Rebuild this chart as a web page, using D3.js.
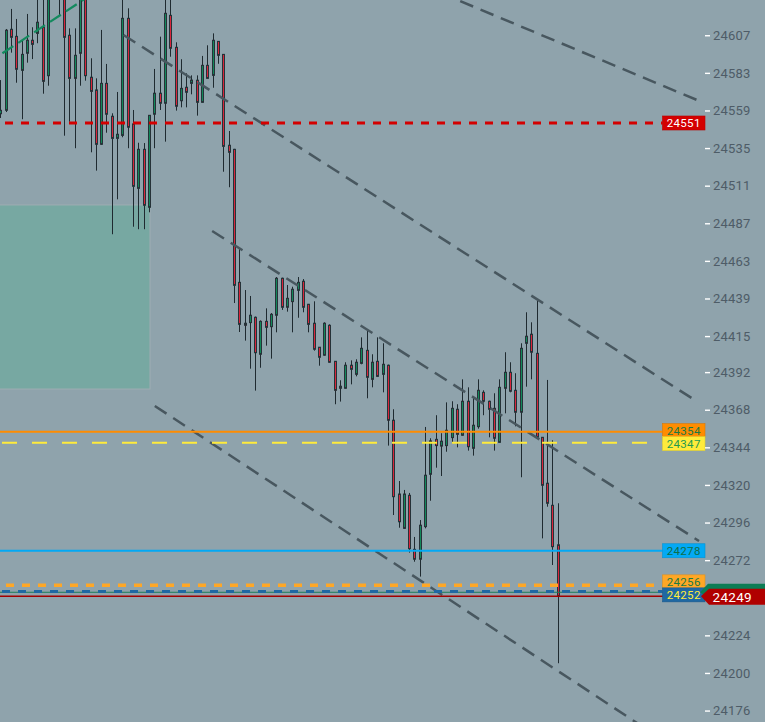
<!DOCTYPE html>
<html>
<head>
<meta charset="utf-8">
<script src="https://cdn.jsdelivr.net/npm/d3@7"></script>
<style>
  body { margin: 0; background: #8fa3ac; overflow: hidden; }
  svg { display: block; font-family: Roboto, "Liberation Sans", sans-serif; }
</style>
</head>
<body>
<div id="chart"></div>
<script>
// candles, oldest first (first one is cut by the left edge)
var opens = [24556.9, 24559.1, 24610.8, 24606.3, 24584.6, 24595.5, 24603.8, 24608.2, 24612.1, 24581.2,
  24642.0, 24650.0, 24638.0, 24607.0, 24579.5, 24595.5, 24638.0, 24580.2, 24572.1, 24537.4,
  24576.3, 24555.3, 24541.2, 24543.1, 24617.8, 24550.4, 24509.3, 24534.2, 24497.2, 24556.6,
  24570.0, 24563.6, 24619.7, 24599.3, 24565.2, 24573.8, 24576.3, 24578.3, 24564.2, 24587.8,
  24581.4, 24603.1, 24594.8, 24536.8, 24534.2, 24449.3, 24423.2, 24423.6, 24427.0, 24403.4,
  24424.4, 24421.0, 24428.3, 24451.9, 24433.4, 24437.0, 24444.2, 24450.0, 24435.3, 24423.2,
  24407.9, 24402.8, 24421.9, 24398.9, 24381.7, 24381.7, 24396.4, 24390.6, 24397.6, 24405.9,
  24387.4, 24398.9, 24390.6, 24396.4, 24361.3, 24314.2, 24292.3, 24313.4, 24278.9, 24272.6,
  24293.4, 24326.8, 24349.1, 24344.8, 24345.1, 24350.2, 24368.3, 24351.7, 24373.4, 24343.4,
  24357.2, 24379.1, 24373.4, 24368.9, 24347.2, 24381.7, 24391.9, 24380.4, 24366.4, 24410.4,
  24416.2, 24404.0, 24350.4, 24321.1, 24307.0, 24281.8];
var highs = [24578.4, 24611.0, 24623.8, 24617.4, 24604.0, 24620.6, 24612.1, 24630.5, 24632.0, 24648.0,
  24662.0, 24660.0, 24645.0, 24611.4, 24611.4, 24640.0, 24645.0, 24592.3, 24579.5, 24610.4,
  24588.7, 24557.2, 24570.8, 24631.0, 24624.2, 24559.3, 24538.4, 24538.2, 24556.0, 24585.5,
  24606.1, 24632.0, 24631.0, 24602.5, 24591.7, 24582.7, 24581.4, 24581.4, 24593.8, 24600.6,
  24608.2, 24603.2, 24595.0, 24545.9, 24534.5, 24471.2, 24444.4, 24440.6, 24427.5, 24425.0,
  24432.7, 24429.7, 24452.7, 24452.3, 24447.6, 24446.5, 24452.7, 24451.4, 24435.5, 24437.2,
  24408.0, 24423.8, 24422.5, 24399.0, 24386.8, 24398.3, 24399.5, 24400.2, 24414.2, 24419.3,
  24403.4, 24414.2, 24410.4, 24396.8, 24368.3, 24322.5, 24316.8, 24314.9, 24286.8, 24297.6,
  24357.0, 24349.8, 24364.5, 24353.0, 24372.7, 24373.4, 24371.5, 24387.4, 24382.3, 24375.9,
  24387.4, 24380.4, 24373.8, 24378.5, 24387.4, 24404.7, 24398.3, 24391.3, 24410.4, 24430.2,
  24423.8, 24437.8, 24350.5, 24387.0, 24348.5, 24308.3];
var lows = [24554.2, 24558.0, 24595.9, 24576.7, 24553.4, 24589.5, 24591.8, 24601.9, 24569.7, 24574.8,
  24633.0, 24619.7, 24542.9, 24551.8, 24534.9, 24574.8, 24578.0, 24532.3, 24520.6, 24537.0,
  24544.8, 24480.0, 24502.3, 24541.9, 24534.9, 24484.8, 24483.2, 24483.2, 24494.0, 24534.9,
  24559.3, 24539.1, 24593.3, 24558.9, 24561.0, 24561.0, 24569.3, 24555.7, 24564.0, 24579.3,
  24573.5, 24588.8, 24519.9, 24510.0, 24436.1, 24417.6, 24412.1, 24394.2, 24380.2, 24394.8,
  24408.9, 24400.6, 24417.4, 24431.7, 24430.6, 24417.4, 24426.7, 24430.2, 24417.4, 24405.7,
  24396.1, 24402.5, 24398.0, 24371.5, 24373.2, 24381.5, 24384.2, 24389.3, 24397.0, 24375.3,
  24382.3, 24389.0, 24379.1, 24345.1, 24300.8, 24292.7, 24292.0, 24276.8, 24271.0, 24261.5,
  24292.3, 24309.9, 24331.0, 24325.7, 24341.2, 24346.6, 24344.0, 24351.5, 24341.9, 24338.7,
  24355.9, 24364.5, 24350.4, 24341.9, 24347.0, 24365.7, 24379.1, 24357.4, 24324.9, 24382.7,
  24387.4, 24350.0, 24285.9, 24306.1, 24268.9, 24206.2];
var closes = [24559.1, 24610.2, 24605.7, 24585.3, 24594.8, 24603.8, 24601.2, 24615.3, 24577.6, 24640.0,
  24655.0, 24636.0, 24605.7, 24579.5, 24594.2, 24633.0, 24581.2, 24571.2, 24537.4, 24576.3,
  24556.6, 24541.2, 24543.8, 24617.8, 24548.3, 24510.6, 24534.2, 24498.5, 24555.9, 24570.0,
  24563.6, 24621.0, 24598.7, 24561.7, 24573.1, 24570.6, 24578.4, 24564.2, 24587.8, 24579.5,
  24603.8, 24594.2, 24536.1, 24532.3, 24447.4, 24422.5, 24421.9, 24428.3, 24404.4, 24424.4,
  24420.6, 24428.9, 24451.9, 24433.4, 24439.1, 24444.9, 24449.3, 24433.4, 24422.5, 24406.6,
  24401.5, 24423.2, 24398.3, 24380.4, 24383.0, 24396.4, 24393.8, 24398.3, 24407.2, 24388.7,
  24398.3, 24389.3, 24397.0, 24361.3, 24312.5, 24296.5, 24314.2, 24279.3, 24272.6, 24294.3,
  24326.2, 24348.1, 24345.1, 24347.9, 24354.9, 24368.9, 24352.3, 24373.4, 24344.4, 24358.1,
  24380.4, 24373.4, 24368.3, 24349.8, 24382.3, 24391.9, 24379.8, 24366.4, 24407.2, 24414.9,
  24404.7, 24350.4, 24319.8, 24308.3, 24280.6, 24249.0];

// right scale tick labels (24248 sits under the last price tag)
var tickValues = [24607, 24583, 24559, 24535, 24511, 24487, 24463, 24439, 24415, 24392,
  24368, 24344, 24320, 24296, 24272, 24224, 24200, 24176];

// horizontal price levels
var levelValues = [24551, 24354, 24347, 24278, 24256, 24252];
var lastPrice = 24249;
var bidPrice = 24251.5;

// channel lines: [candle index, price] pairs
var trendTop = [[82.8, 24634.2], [131.2, 24565.7]];
var trendUpper = [[23.2, 24607.2], [131.3, 24373.1]];
var trendLower = [[39.9, 24482.1], [131.6, 24284.2]];
var trendBottom = [[29.1, 24370.4], [124.0, 24159.0]];
var trendGreen = [[0.4, 24595.5], [16.5, 24631.5]];

// shaded zone on the left
var zoneIdx = [-3, 28.2];
var zonePrice = [24498.7, 24381.2];

var width = 765, height = 722, axisX = 705, tagX = 662.5;

var svg = d3.select("#chart").append("svg")
  .attr("width", width)
  .attr("height", height);

svg.append("rect")
  .attr("width", width).attr("height", height)
  .attr("fill", "#8fa3ac");

var x = d3.scaleLinear().domain([0, 105]).range([0.3, 557.8]);
var y = d3.scaleLinear().domain([24168.7, 24629.5]).range([height, 0]);

// zone
svg.append("rect")
  .attr("x", x(zoneIdx[0]))
  .attr("y", y(zonePrice[0]))
  .attr("width", x(zoneIdx[1]) - x(zoneIdx[0]))
  .attr("height", y(zonePrice[1]) - y(zonePrice[0]))
  .attr("fill", "#77a8a2")
  .attr("stroke", "#9fadb3")
  .attr("stroke-width", 1);

// candles
var candles = opens.map(function(o, i) {
  return {i: i, o: o, h: highs[i], l: lows[i], c: closes[i]};
});

var cg = svg.append("g");
var px = function(d) { return Math.round(x(d.i)) + 0.5; };

cg.selectAll("line.wick")
  .data(candles)
  .enter().append("line")
    .attr("class", "wick")
    .attr("x1", px).attr("x2", px)
    .attr("y1", function(d) { return y(d.h); })
    .attr("y2", function(d) { return y(d.l); })
    .attr("stroke", "#1f2a30")
    .attr("stroke-width", 1);

cg.selectAll("rect.body")
  .data(candles)
  .enter().append("rect")
    .attr("class", "body")
    .attr("x", function(d) { return px(d) - 1; })
    .attr("width", 2)
    .attr("y", function(d) { return y(Math.max(d.o, d.c)); })
    .attr("height", function(d) { return Math.max(1, Math.abs(y(d.o) - y(d.c))); })
    .attr("fill", function(d) { return d.c >= d.o ? "#12885a" : "#d8263c"; })
    .attr("stroke", "#263238")
    .attr("stroke-width", 1);

// trend lines
var line = d3.line()
  .x(function(d) { return x(d[0]); })
  .y(function(d) { return y(d[1]); });

[trendTop, trendUpper, trendLower, trendBottom].forEach(function(t) {
  svg.append("path")
    .attr("d", line(t))
    .attr("fill", "none")
    .attr("stroke", "#48575f")
    .attr("stroke-width", 2.5)
    .attr("stroke-dasharray", "14,8");
});

svg.append("path")
  .attr("d", line(trendGreen))
  .attr("fill", "none")
  .attr("stroke", "#138a5e")
  .attr("stroke-width", 2.2)
  .attr("stroke-dasharray", "13,6");

// level lines
var levelStyle = [
  {color: "#d40000", w: 3, dash: "8,8", off: 11, text: "#ffffff"},
  {color: "#ff8c00", w: 2, dash: null, off: 0, text: "#1b7a44"},
  {color: "#ffeb3b", w: 2, dash: "15,15", off: 28, text: "#1f9a50"},
  {color: "#03a9f4", w: 2, dash: null, off: 0, text: "#0f6e4a"},
  {color: "#ffa726", w: 3.5, dash: "8,8", off: 10, text: "#1b7a44"},
  {color: "#1f68a3", w: 3, dash: "8,8", off: 14, text: "#ffeb3b"}
];

// thin bid / last price lines
svg.append("line")
  .attr("x1", 0).attr("x2", axisX)
  .attr("y1", y(bidPrice)).attr("y2", y(bidPrice))
  .attr("stroke", "#1b7d5a").attr("stroke-width", 1);
svg.append("line")
  .attr("x1", 0).attr("x2", axisX)
  .attr("y1", y(lastPrice)).attr("y2", y(lastPrice))
  .attr("stroke", "#a30000").attr("stroke-width", 1.5);

levelValues.forEach(function(v, k) {
  var s = levelStyle[k];
  var l = svg.append("line")
    .attr("x1", 0).attr("x2", tagX)
    .attr("y1", y(v)).attr("y2", y(v))
    .attr("stroke", s.color)
    .attr("stroke-width", s.w);
  if (s.dash) l.attr("stroke-dasharray", s.dash).attr("stroke-dashoffset", s.off);
});

// price tags, pushed apart when they collide
var tagH = 13;
var tags = levelValues.map(function(v, k) { return {v: v, k: k, cy: y(v)}; })
  .sort(function(a, b) { return a.cy - b.cy; });
for (var n = 0; n < 5; n++) {
  for (var j = 1; j < tags.length; j++) {
    var gap = tags[j].cy - tags[j - 1].cy;
    if (gap < tagH) {
      var push = (tagH - gap) / 2;
      tags[j - 1].cy -= push;
      tags[j].cy += push;
    }
  }
}
tags.sort(function(a, b) { return a.k - b.k; });

tags.forEach(function(t) {
  var s = levelStyle[t.k];
  svg.append("rect")
    .attr("x", tagX).attr("y", t.cy - tagH / 2 - 0.5)
    .attr("width", axisX - tagX).attr("height", tagH + 1)
    .attr("fill", s.color)
    .attr("stroke", d3.color(s.color).darker(0.4))
    .attr("stroke-width", 0.6);
  svg.append("text")
    .attr("x", (tagX + axisX) / 2)
    .attr("y", t.cy)
    .attr("dy", "0.36em")
    .attr("text-anchor", "middle")
    .attr("font-size", 11.5)
    .attr("letter-spacing", 0.3)
    .attr("fill", s.text)
    .text(d3.format("d")(t.v));
});

// axis
var axis = d3.axisRight(y)
  .tickValues(tickValues)
  .tickSize(5)
  .tickPadding(3)
  .tickFormat(d3.format("d"));

var gAxis = svg.append("g")
  .attr("transform", "translate(" + axisX + ",0)")
  .call(axis);
gAxis.select(".domain").remove();
gAxis.selectAll(".tick line").attr("stroke", "#ffffff").attr("stroke-width", 1.4);
gAxis.selectAll(".tick text")
  .attr("fill", "#4e5c67")
  .attr("font-size", 13)
  .attr("font-family", "Roboto, sans-serif")
  .attr("letter-spacing", 0.2);

// bid tag (mostly hidden) and last price tag
var yb = y(bidPrice) - 2, yl = y(lastPrice);
svg.append("path")
  .attr("d", "M" + (axisX - 5) + "," + (yb + 2) + " L" + (axisX + 3) + "," + (yb - 6.5) +
    " L" + width + "," + (yb - 6.5) + " L" + width + "," + (yb + 8) + " L" + (axisX + 3) + "," + (yb + 8) + "Z")
  .attr("fill", "#0c7d55");
svg.append("path")
  .attr("d", "M" + (axisX - 4) + "," + yl + " L" + (axisX + 4) + "," + (yl - 7.5) +
    " L" + width + "," + (yl - 7.5) + " L" + width + "," + (yl + 8.5) + " L" + (axisX + 4) + "," + (yl + 8.5) + "Z")
  .attr("fill", "#b00000");
svg.append("text")
  .attr("x", 712.5)
  .attr("y", yl + 0.5)
  .attr("dy", "0.36em")
  .attr("font-size", 13.5)
  .attr("letter-spacing", 0.3)
  .attr("fill", "#ffffff")
  .text(d3.format("d")(lastPrice));
</script>
</body>
</html>
